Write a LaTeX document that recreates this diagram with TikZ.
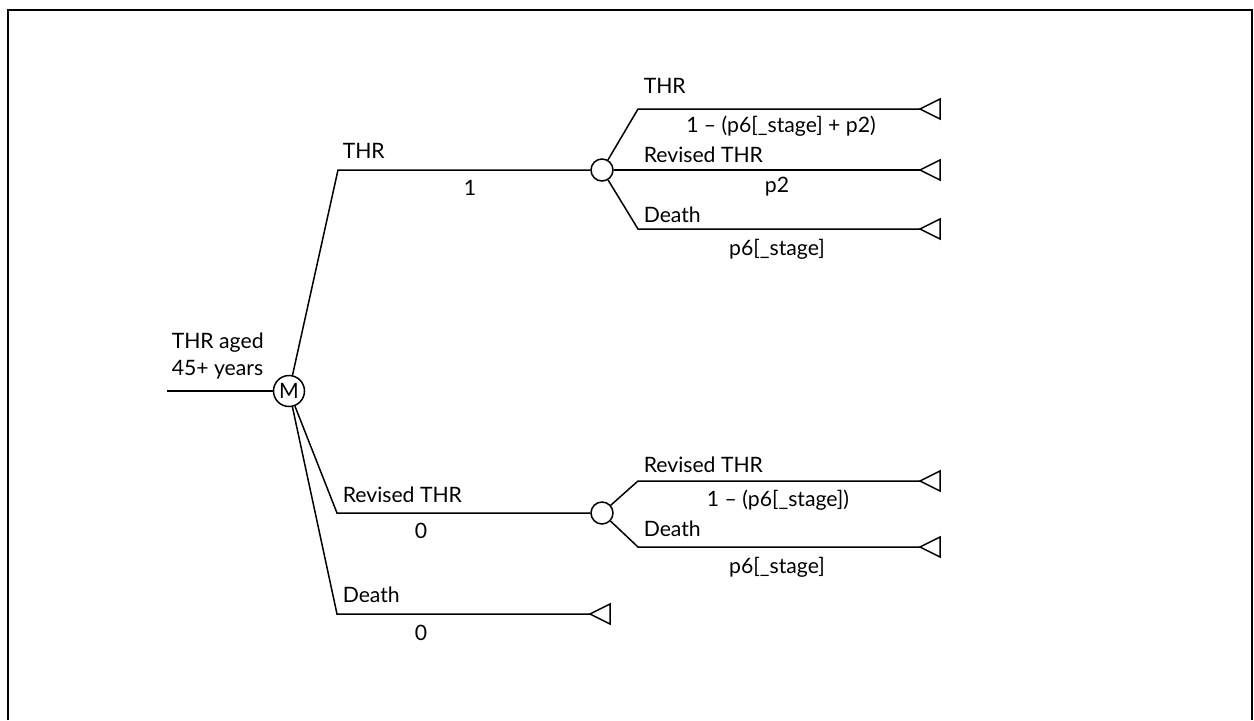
\documentclass[tikz,border=0pt]{standalone}
\usepackage{fontspec}
\setmainfont{Lato}
\begin{document}
\begin{tikzpicture}[x=0.5pt,y=-0.5pt,line width=0.75pt,
  every node/.style={font=\fontsize{10.6}{13.5}\selectfont,inner sep=0pt},
  markov/.style={circle,draw,minimum size=15.5pt,inner sep=0pt},
  chance/.style={circle,draw,minimum size=11pt,inner sep=0pt},
  lab/.style={anchor=base west},
  prob/.style={anchor=base},
  leaf/.pic={\draw (0,0) -- (20,10) -- (20,-10) -- cycle;}]
\useasboundingbox (0,0) rectangle (1254,720);
\draw[line width=1pt] (8,720) -- (8,10) -- (1252,10) -- (1252,720);
% nodes
\coordinate (start) at (167,391);
\node[markov] (M) at (289,391) {M};
\coordinate (k1) at (338,170);
\coordinate (k2) at (337,513);
\coordinate (k3) at (337,614);
\node[chance] (c1) at (602,170) {};
\node[chance] (c2) at (602,513) {};
\coordinate (a1) at (638,109);
\coordinate (a3) at (638,229);
\coordinate (b1) at (638,481);
\coordinate (b2) at (638,547);
\coordinate (t1) at (920,109);
\coordinate (t2) at (920,170);
\coordinate (t3) at (920,229);
\coordinate (t4) at (920,481);
\coordinate (t5) at (920,547);
\coordinate (t6) at (590,614);
\foreach \t in {t1,t2,t3,t4,t5,t6} \pic at (\t) {leaf};
% connectors
\draw (start) -- (M);
\draw (M) -- (k1) -- (c1);
\draw (M) -- (k2) -- (c2);
\draw (M) -- (k3) -- (t6);
\draw (c1) -- (a1) -- (t1);
\draw (c1) -- (t2);
\draw (c1) -- (a3) -- (t3);
\draw (c2) -- (b1) -- (t4);
\draw (c2) -- (b2) -- (t5);
% labels
\node[lab,align=left] (root) at (171,375) {THR aged\\45+ years};
\node[lab] (lthr) at (342,158) {THR};
\node[prob] (pthr) at (470,195) {1};
\node[lab] (lrev) at (342,502) {Revised THR};
\node[prob] (prev) at (421,538) {0};
\node[lab] (ldea) at (342,602) {Death};
\node[prob] (pdea) at (421,640) {0};
\node[lab] (u1) at (643,93) {THR};
\node[prob] (q1) at (781,132) {1 – (p6[\_stage] + p2)};
\node[lab] (u2) at (643,162) {Revised THR};
\node[prob] (q2) at (777,192) {p2};
\node[lab] (u3) at (643,222) {Death};
\node[prob] (q3) at (777,255) {p6[\_stage]};
\node[lab] (v1) at (643,472) {Revised THR};
\node[prob] (r1) at (778,506) {1 – (p6[\_stage])};
\node[lab] (v2) at (643,536) {Death};
\node[prob] (r2) at (777,573) {p6[\_stage]};
\end{tikzpicture}
\end{document}
